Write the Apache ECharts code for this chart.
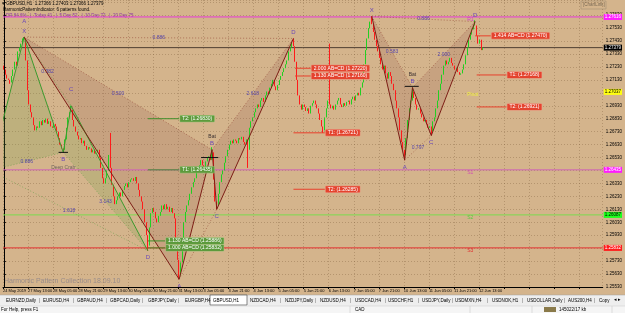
<!DOCTYPE html>
<html><head><meta charset="utf-8">
<script src="https://cdn.jsdelivr.net/npm/echarts@6/dist/echarts.min.js"></script>
<style>html,body{margin:0;padding:0;background:#d4b48c;overflow:hidden}#c{width:625px;height:313px}</style>
</head><body><div id="c"></div>
<script>
// ---------- data ----------
const tickLabels = ['24 May 2019','27 May 13:00','28 May 05:00','28 May 21:00','29 May 13:00','30 May 05:00','30 May 21:00','31 May 13:00','3 Jun 05:00','3 Jun 21:00','4 Jun 13:00','5 Jun 05:00','5 Jun 21:00','6 Jun 13:00','7 Jun 05:00','7 Jun 21:00','10 Jun 13:00','11 Jun 05:00','11 Jun 21:00','12 Jun 13:00'];
const firstOpen = 1.2724;
const closes = [
1.2721,1.2717,1.2714,1.2713,1.2711,1.2716,1.2721,1.2727,1.2724,1.2735,
1.2738,1.2741,1.2744,1.2745,1.2728,1.2705,1.2694,1.2688,1.2684,1.2678,
1.2674,1.2677,1.2676,1.2681,1.2678,1.2682,1.2680,1.2683,1.2679,1.2681,
1.2677,1.2676,1.2679,1.2677,1.2673,1.2668,1.2663,1.2660,1.2659,1.2667,
1.2676,1.2684,1.2688,1.2690,1.2682,1.2677,1.2673,1.2670,1.2667,1.2668,
1.2664,1.2666,1.2662,1.2659,1.2661,1.2660,1.2657,1.2659,1.2656,1.2657,
1.2659,1.2653,1.2645,1.2637,1.2633,1.2637,1.2643,1.2655,1.2645,1.2632,
1.2623,1.2617,1.2620,1.2623,1.2626,1.2623,1.2628,1.2631,1.2633,1.2630,
1.2634,1.2636,1.2637,1.2635,1.2638,1.2633,1.2628,1.2623,1.2619,1.2613,
1.2603,1.2593,1.2585,1.2599,1.2610,1.2614,1.2611,1.2606,1.2603,1.2608,
1.2611,1.2616,1.2613,1.2617,1.2613,1.2615,1.2611,1.2614,1.2610,1.2606,
1.2591,1.2574,1.2562,1.2572,1.2589,1.2603,1.2611,1.2616,1.2620,1.2625,
1.2630,1.2634,1.2637,1.2642,1.2645,1.2647,1.2651,1.2647,1.2643,1.2650,
1.2653,1.2654,1.2651,1.2657,1.2636,1.2619,1.2616,1.2625,1.2634,1.2640,
1.2643,1.2649,1.2654,1.2659,1.2663,1.2666,1.2664,1.2667,1.2666,1.2664,
1.2668,1.2667,1.2669,1.2665,1.2663,1.2667,1.2659,1.2676,1.2681,1.2684,
1.2688,1.2691,1.2694,1.2692,1.2697,1.2699,1.2696,1.2701,1.2704,1.2702,
1.2707,1.2710,1.2713,1.2708,1.2705,1.2709,1.2713,1.2716,1.2719,1.2722,
1.2725,1.2728,1.2735,1.2738,1.2742,1.2739,1.2727,1.2713,1.2701,1.2694,
1.2690,1.2694,1.2692,1.2689,1.2691,1.2687,1.2693,1.2695,1.2697,1.2694,
1.2691,1.2687,1.2682,1.2677,1.2674,1.2684,1.2691,1.2697,1.2694,1.2691,
1.2693,1.2690,1.2694,1.2697,1.2699,1.2694,1.2692,1.2695,1.2693,1.2696,
1.2697,1.2694,1.2698,1.2700,1.2697,1.2701,1.2703,1.2701,1.2707,1.2711,
1.2725,1.2736,1.2745,1.2753,1.2758,1.2756,1.2750,1.2744,1.2739,1.2735,
1.2730,1.2725,1.2721,1.2724,1.2718,1.2714,1.2719,1.2716,1.2710,1.2705,
1.2697,1.2691,1.2684,1.2674,1.2665,1.2659,1.2655,1.2668,1.2682,1.2691,
1.2697,1.2704,1.2699,1.2694,1.2690,1.2691,1.2687,1.2684,1.2681,1.2682,
1.2679,1.2676,1.2677,1.2673,1.2681,1.2684,1.2691,1.2697,1.2705,1.2710,
1.2717,1.2724,1.2728,1.2725,1.2727,1.2730,1.2726,1.2724,1.2721,1.2722,
1.2719,1.2717,1.2718,1.2721,1.2725,1.2732,1.2738,1.2744,1.2748,1.2752,
1.2755,1.2755,1.2747,1.2741,1.2744,1.2736,1.2738];
const highWicks = [[12,1.2745],[13,1.2746],[43,1.2693],[68,1.2672],[133,1.2661],[185,1.2745],[208,1.2741],[235,1.2762],[261,1.2707],[301,1.2759]];
const lowWicks = [[4,1.2710],[38,1.2657],[92,1.2581],[112,1.2559],[136,1.2613],[156,1.2645],[204,1.2672],[256,1.2651],[273,1.2670]];

// harmonic patterns: X, A, B, C, D as [bar, price]
const crabPoints = [[-8.7,1.2643],[13,1.2746],[38,1.2657],[43,1.2693],[92,1.2581]];
const bat1Points = [[13,1.2746],[112,1.2559],[133,1.2659],[136,1.2613],[185,1.2745]];
const bat2Points = [[235,1.2762],[256,1.2651],[261,1.2707],[273,1.2670],[301,1.2758]];
// ratio labels on XB, AC, BD, XD
const crabRatios = ['0.886','0.382','3.143','1.618'];
const bat1Ratios = ['0.500','','2.618','0.886'];
const bat2Ratios = ['0.583','0.797','2.000','0.886'];
const bMarkers = [[35,41,1.2657],[126,137,1.2653],[256,265,1.2708]];

// target lines: price, text, from bar, to bar, bullish?
const targetPrices = [1.2722,1.2716,1.2747,1.27168,1.26921,1.26721,1.26285,1.2683,1.26435,1.25886,1.25832];
const targetTexts = ['2.000 AB=CD (1.27220)','1.130 AB=CD (1.27160)','1.414 AB=CD (1.27470)','T1: (1.27168)','T2: (1.26921)','T1: (1.26721)','T2: (1.26285)','T2: (1.26830)','T1: (1.26435)','1.130 AB=CD (1.25886)','1.000 AB=CD (1.25832)'];
const targetFrom = [186,186,301,302,302,185,185,92,92,92,92];
const targetTo = [196,196,311,321,321,205,205,112,112,103,103];
const targetBull = [false,false,false,false,false,false,false,true,true,true,true];

// horizontal levels
const levelPrices = [1.27616,1.27379,1.27037,1.26435,1.26087,1.25832];
const levelNames = ['R1','','Pivot','S1','S2','S3'];
const levelNameBar = 296;

// window chrome
const tabNames = ['EURNZD,Daily','EURUSD,H4','GBPAUD,H4','GBPCAD,Daily','GBPJPY,Daily','EURGBP,H4','GBPUSD,H1','NZDCAD,H4','NZDJPY,Daily','NZDUSD,H4','USDCAD,H4','USDCHF,H1','USDJPY,Daily','USDMXN,H4','USDNOK,H1','USDOLLAR,Daily','AUS200,H4','Copy'];

// ---------- build ----------
const FONT = "'Liberation Sans', Arial, sans-serif";
const f = s => s + 'px ' + FONT;
const candleData = closes.map((c, i) => {
  const o = i === 0 ? firstOpen : closes[i - 1];
  return [i, o, c, Math.min(o, c), Math.max(o, c)];
});
highWicks.forEach(([i, h]) => { candleData[i][4] = Math.max(candleData[i][4], h); });
lowWicks.forEach(([i, l]) => { candleData[i][3] = Math.min(candleData[i][3], l); });

const patternDefs = [
  {pts: crabPoints, ratios: crabRatios, bull: true, name: 'Deep Crab', aboveShift: 10},
  {pts: bat1Points, ratios: bat1Ratios, bull: false, name: 'Bat', aboveShift: 0},
  {pts: bat2Points, ratios: bat2Ratios, bull: false, name: 'Bat', aboveShift: 0}
];

function shadeItem(params, api) {
  const P = patternDefs[params.dataIndex];
  const c = P.pts.map(p => api.coord(p));
  const fill = P.bull ? 'rgba(120,165,80,0.24)' : 'rgba(150,90,80,0.20)';
  return {type: 'group', children: [
    {type: 'polygon', shape: {points: [c[0], c[1], c[2]]}, style: {fill}},
    {type: 'polygon', shape: {points: [c[2], c[3], c[4]]}, style: {fill}}
  ]};
}

function overlayItem(params, api) {
  const P = patternDefs[params.dataIndex];
  const c = P.pts.map(p => api.coord(p));
  const col = P.bull ? '#3c9a2e' : '#7d1e16';
  const ch = [];
  const seg = (a, b, dashed) => ({type: 'line', shape: {x1: a[0], y1: a[1], x2: b[0], y2: b[1]},
    style: {stroke: col, lineWidth: 1, lineDash: dashed ? [1, 2] : null, opacity: dashed ? 0.45 : 1}});
  for (let k = 0; k < 4; k++) ch.push(seg(c[k], c[k + 1], false));
  [[0, 2], [1, 3], [2, 4], [0, 4]].forEach(([a, b], j) => {
    ch.push(seg(c[a], c[b], true));
    if (P.ratios[j]) ch.push({type: 'text', x: (c[a][0] + c[b][0]) / 2, y: (c[a][1] + c[b][1]) / 2,
      style: {text: P.ratios[j], fill: '#5646a8', font: f(5), align: 'center', verticalAlign: 'middle'}});
  });
  const letters = ['X', 'A', 'B', 'C', 'D'];
  letters.forEach((L, k) => {
    const high = P.bull ? (k % 2 === 1) : (k % 2 === 0);
    const dy = high ? -6 - P.aboveShift : 7;
    ch.push({type: 'text', x: c[k][0], y: c[k][1] + dy,
      style: {text: L, fill: '#6a48b8', font: f(6), align: 'center', verticalAlign: 'middle'}});
  });
  const bHigh = !P.bull;
  ch.push({type: 'text', x: c[2][0], y: c[2][1] + (bHigh ? -13 : 15),
    style: {text: P.name, fill: bHigh ? '#3a3030' : '#6f6560', font: f(5), align: 'center', verticalAlign: 'middle'}});
  return {type: 'group', children: ch};
}

function bMarkItem(params, api) {
  const m = bMarkers[params.dataIndex];
  const a = api.coord([m[0], m[2]]), b = api.coord([m[1], m[2]]);
  return {type: 'line', shape: {x1: a[0], y1: a[1], x2: b[0], y2: b[1]}, style: {stroke: '#111', lineWidth: 1}};
}

function targetItem(params, api) {
  const i = params.dataIndex;
  const a = api.coord([targetFrom[i], targetPrices[i]]);
  const b = api.coord([targetTo[i], targetPrices[i]]);
  const bull = targetBull[i];
  const lineCol = bull ? '#3f8f2a' : '#e8402c';
  return {type: 'group', children: [
    {type: 'line', shape: {x1: a[0], y1: a[1], x2: b[0], y2: b[1]}, style: {stroke: lineCol, lineWidth: 1}},
    {type: 'text', x: b[0] + 1, y: b[1],
      style: {text: targetTexts[i], fill: '#ffffff', font: f(5), align: 'left', verticalAlign: 'middle',
        backgroundColor: bull ? '#5c9a3c' : '#e4432e', borderColor: bull ? '#8fc070' : '#f08070', borderWidth: 0.5, padding: [1, 2, 0, 2]}}
  ]};
}

const levelLine = ['#e63ad8', '#4e3e30', null, '#cf62b6', '#7bdc4e', '#e43030'];
const levelBox = ['#ff1cff', '#000000', '#ffff10', '#ff1cff', '#1cff1c', '#ff1c1c'];
const levelBoxText = ['#ffffff', '#ffffff', '#000000', '#ffffff', '#000000', '#ffffff'];
const levelNameCol = ['#d040c8', '#000', '#f0f040', '#d050b0', '#5cc840', '#e03030'];
function levelItem(params, api) {
  const i = params.dataIndex;
  const cs = params.coordSys;
  const y = api.coord([0, levelPrices[i]])[1];
  const ch = [];
  if (levelLine[i]) ch.push({type: 'line', shape: {x1: cs.x, y1: y, x2: cs.x + cs.width, y2: y}, style: {stroke: levelLine[i], lineWidth: 1}});
  ch.push({type: 'text', x: cs.x + cs.width + 1, y: y,
    style: {text: levelPrices[i].toFixed(5), fill: levelBoxText[i], font: f(4.5), align: 'left', verticalAlign: 'middle',
      backgroundColor: levelBox[i], padding: [1, 1, 0, 1]}});
  if (levelNames[i]) ch.push({type: 'text', x: api.coord([levelNameBar, 0])[0], y: y + 3,
    style: {text: levelNames[i], fill: levelNameCol[i], font: f(5), align: 'left', verticalAlign: 'middle'}});
  return {type: 'group', children: ch};
}

// chrome graphics
const tabX = [6,43,77,110,148,185,213,250,285,320,355,388,422,455,492,527,568,599];
const sepX = [39,73,106,142,178,209,280,315,350,385,418,452,487,522,564,594];
const graphics = [
  {type: 'text', left: 2, top: 1, style: {text: '\u25be GBPUSD,H1  1.27366 1.27403 1.27366 1.27379', fill: '#000', font: f(4.5)}},
  {type: 'text', left: 3, top: 7, style: {text: 'HarmonicPatternIndicator: 6 patterns found.', fill: '#000', font: f(4.5)}},
  {type: 'text', left: 3, top: 13, style: {text: 'ADR 84.6%   |  Today 41   |  5 Day 52   |  10 Day 72   |  20 Day 75', fill: '#8a3aa0', font: f(4.5)}},
  {type: 'rect', shape: {x: 581, y: 1, width: 25, height: 8}, style: {fill: 'rgba(0,0,0,0)', stroke: '#9a8a70', lineWidth: 0.5}},
  {type: 'text', left: 583, top: 2.5, style: {text: '[ChartLink]', fill: '#7a6a55', font: f(4.5)}},
  {type: 'text', left: 4, top: 278, style: {text: 'Harmonic Pattern Collection 18.09.10', fill: '#998c8a', font: f(7)}},
  {type: 'rect', shape: {x: 0, y: 295, width: 625, height: 11}, style: {fill: '#eeeeee'}},
  {type: 'line', shape: {x1: 0, y1: 295, x2: 625, y2: 295}, style: {stroke: '#a0a0a0', lineWidth: 0.5}},
  {type: 'rect', shape: {x: 210, y: 295, width: 37, height: 10}, style: {fill: '#ffffff', stroke: '#555', lineWidth: 0.7}},
  {type: 'rect', shape: {x: 0, y: 306, width: 625, height: 7}, style: {fill: '#f5f5f5'}},
  {type: 'line', shape: {x1: 0, y1: 306, x2: 625, y2: 306}, style: {stroke: '#c8c8c8', lineWidth: 0.5}},
  {type: 'text', left: 1, top: 307, style: {text: 'For Help, press F1', fill: '#000', font: f(4.5)}},
  {type: 'text', left: 355, top: 307, style: {text: 'CAD', fill: '#000', font: f(4.5)}},
  {type: 'rect', shape: {x: 544, y: 307, width: 12, height: 5}, style: {fill: '#8a7a4a'}},
  {type: 'text', left: 559, top: 307, style: {text: '145022/17 kb', fill: '#000', font: f(4.5)}},
  {type: 'text', left: 614, top: 297.5, style: {text: '\u25c2 \u25b8', fill: '#000', font: f(5)}}
];
[350, 470, 532, 612].forEach(x => graphics.push({type: 'line', shape: {x1: x, y1: 306, x2: x, y2: 313}, style: {stroke: '#c0c0c0', lineWidth: 0.5}}));
tabNames.forEach((t, i) => graphics.push({type: 'text', left: tabX[i], top: 298, style: {text: t, fill: '#000', font: f(4.5)}}));
sepX.forEach(x => graphics.push({type: 'text', left: x, top: 298, style: {text: '|', fill: '#555', font: f(4.5)}}));

const chart = echarts.init(document.getElementById('c'), null, {renderer: 'canvas', width: 625, height: 313});
chart.setOption({
  animation: false,
  backgroundColor: '#d4b48c',
  grid: {left: 0, right: 20, top: 0, bottom: 26},
  xAxis: {
    type: 'value', min: -0.5, max: 382.5, interval: 16,
    axisLine: {show: true, lineStyle: {color: '#000', width: 1}},
    axisTick: {show: true, length: 2, lineStyle: {color: '#000'}},
    axisLabel: {fontSize: 4, fontFamily: FONT, color: '#000', margin: 2, align: 'left', showMinLabel: true, showMaxLabel: false, hideOverlap: false,
      formatter: v => { const k = (v + 0.5) / 16; const r = Math.round(k); return (Math.abs(k - r) < 1e-6 && r < tickLabels.length) ? tickLabels[r] : ''; }},
    splitLine: {show: true, lineStyle: {color: 'rgba(120,90,55,0.35)', type: [1, 2], width: 1}}
  },
  yAxis: {
    type: 'value', position: 'right', min: 1.2553, max: 1.27747, interval: 0.001,
    axisLine: {show: true, lineStyle: {color: '#000', width: 1}},
    axisTick: {show: true, length: 2, lineStyle: {color: '#000'}},
    axisLabel: {fontSize: 4.5, fontFamily: FONT, color: '#000', margin: 3, showMaxLabel: false,
      formatter: v => v > 1.2770 ? '' : v.toFixed(5)},
    splitLine: {show: true, lineStyle: {color: 'rgba(120,90,55,0.35)', type: [1, 2], width: 1}}
  },
  graphic: graphics,
  series: [
    {type: 'custom', name: 'shade', renderItem: shadeItem, data: patternDefs.map((p, i) => [i]), clip: true, z: 1, silent: true},
    {type: 'custom', name: 'levels', renderItem: levelItem, data: levelPrices.map((p, i) => [i]), clip: false, z: 2, silent: true},
    {type: 'candlestick', name: 'GBPUSD', data: candleData, encode: {x: 0, y: [1, 2, 3, 4]}, barWidth: 1, z: 3,
      itemStyle: {color: '#22cf22', color0: '#ff1a1a', borderColor: '#22cf22', borderColor0: '#ff1a1a', borderWidth: 1}},
    {type: 'custom', name: 'patterns', renderItem: overlayItem, data: patternDefs.map((p, i) => [i]), clip: true, z: 4, silent: true},
    {type: 'custom', name: 'bmarks', renderItem: bMarkItem, data: bMarkers.map((p, i) => [i]), z: 4, silent: true},
    {type: 'custom', name: 'targets', renderItem: targetItem, data: targetPrices.map((p, i) => [i]), clip: false, z: 5, silent: true}
  ]
});
</script></body></html>
